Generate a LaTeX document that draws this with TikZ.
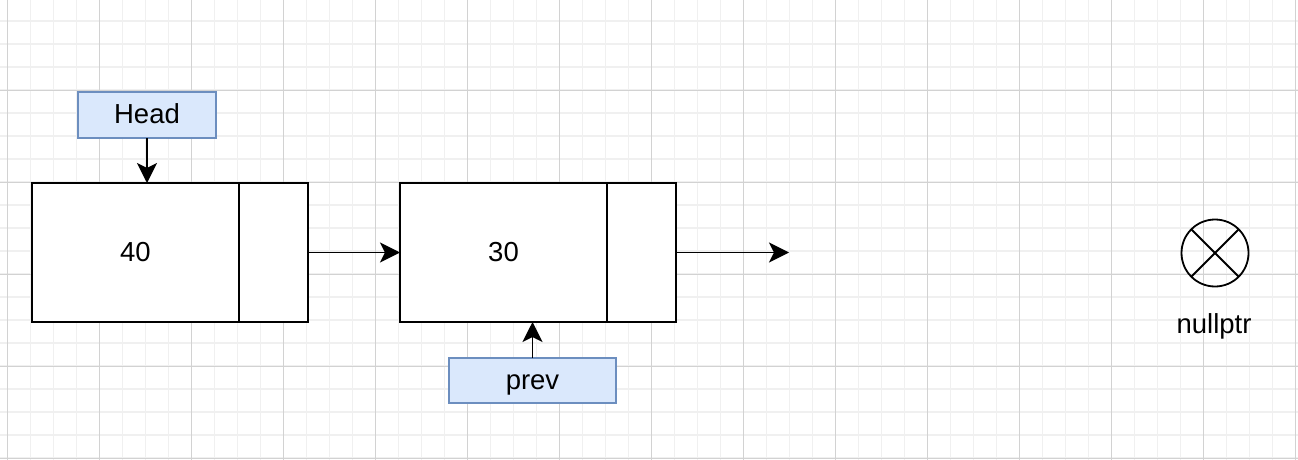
\documentclass[tikz,border=0pt]{standalone}
\usepackage{fontspec}
\setmainfont{Liberation Sans}
\usetikzlibrary{arrows.meta}
\definecolor{gridminor}{HTML}{F0F0F0}
\definecolor{gridmajor}{HTML}{D2D2D2}
\definecolor{boxfill}{HTML}{DAE8FC}
\definecolor{boxline}{HTML}{6C8EBF}
\tikzset{
  cell/.style={draw=black, line width=1.8pt, fill=white, minimum height=139pt,
    inner sep=0pt, outer sep=0pt, text height=19pt, text depth=2pt},
  label/.style={draw=boxline, fill=boxfill, line width=1.8pt, inner sep=0pt, outer sep=0pt,
    text height=19pt, text depth=2pt},
  arr/.style={-{Stealth[length=20pt,width=20pt,inset=5pt]}, line width=1.8pt},
}
\begin{document}
\begin{tikzpicture}[x=1pt,y=-1pt,font=\fontsize{27.5}{30}\selectfont]
\useasboundingbox (0,0) rectangle (1298,460);
\fill[white] (0,0) rectangle (1298,460);
% background grid
\foreach \k in {0,...,56} \draw[gridminor, line width=1.2pt] ({7.5+23*\k},0) -- ({7.5+23*\k},460);
\foreach \k in {1,...,20} \draw[gridminor, line width=1.2pt] (0,{-2+23*\k}) -- (1298,{-2+23*\k});
\foreach \k in {0,...,14} \draw[gridmajor, line width=1pt] ({7.5+92*\k},0) -- ({7.5+92*\k},460);
\foreach \k in {1,...,5} \draw[gridmajor, line width=1pt] (0,{-2+92*\k}) -- (1298,{-2+92*\k});

% first list element
\node[cell, minimum width=207pt] (v1) at (135.5,252.5) {40};
\node[cell, minimum width=69pt, anchor=west] (p1) at (v1.east) {};
% second list element
\node[cell, minimum width=207pt] (v2) at (503.5,252.5) {30};
\node[cell, minimum width=69pt, anchor=west] (p2) at (v2.east) {};
\coordinate (end2) at (789,252.5);

% pointer labels
\node[label, minimum width=138pt, minimum height=46pt] (head) at (147,115) {Head};
\node[label, minimum width=167pt, minimum height=45pt] (prev) at (532.5,380.5) {prev};

% null pointer symbol
\node[circle, draw=black, line width=1.8pt, minimum size=67pt, inner sep=0pt, outer sep=0pt] (nul) at (1215,253) {};
\draw[line width=1.8pt] (nul.45) -- (nul.225);
\draw[line width=1.8pt] (nul.135) -- (nul.-45);
\node[anchor=base] (nultxt) at (1214,333.3) {nullptr};

% connectors
\draw[arr] (head.south) -- (head.south |- v1.north);
\draw[arr] (p1.east) -- (v2.west);
\draw[arr] (p2.east) -- (end2);
\draw[arr] (prev.north) -- (prev.north |- v2.south);
\end{tikzpicture}
\end{document}
